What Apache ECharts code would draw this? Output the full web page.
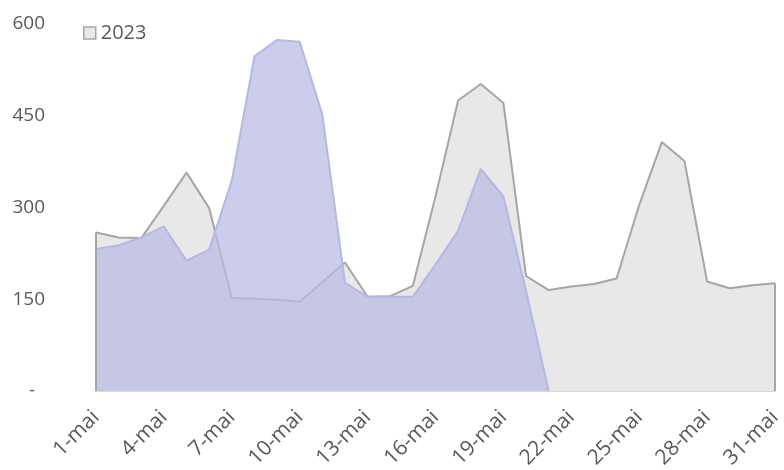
<!DOCTYPE html>
<html>
<head>
<meta charset="utf-8">
<script src="https://cdn.jsdelivr.net/npm/echarts@6/dist/echarts.min.js"></script>
<style>
  html, body { margin: 0; padding: 0; background: #fff; }
  #chart { width: 784px; height: 470px; }
</style>
</head>
<body>
<div id="chart"></div>
<script>
// days of May
const days = []
for (let d = 1; d <= 31; d++) days.push(d + '-mai')

const yTicks = [0, 150, 300, 450, 600]

const series2023 = [259, 251, 250, 303, 357, 299, 152, 151, 149, 146, 178, 210, 154, 155, 172,
  318, 475, 502, 471, 188, 165, 171, 175, 184, 304, 407, 376, 179, 168, 173, 176]

const series2024 = [232, 238, 251, 269, 213, 231, 344, 547, 574, 571, 452, 177, 154, 154, 154,
  207, 262, 363, 318, 164, 0, null, null, null, null, null, null, null, null, null, null]

const textColor = '#595959'
const font = 'Open Sans'

const chart = echarts.init(document.getElementById('chart'))

chart.setOption({
  animation: false,
  textStyle: { fontFamily: font },
  legend: {
    data: ['2023'],
    left: 78,
    top: 18,
    icon: 'rect',
    itemWidth: 12,
    itemHeight: 12,
    itemGap: 6,
    textStyle: { color: textColor, fontSize: 20, fontFamily: font },
    itemStyle: { borderColor: '#a6a6a6', borderWidth: 1.5 }
  },
  grid: { left: 96, right: 9, top: 24, bottom: 79, outerBoundsMode: 'none', containLabel: false },
  xAxis: {
    type: 'category',
    data: days,
    boundaryGap: false,
    axisLine: { lineStyle: { color: '#d9d9d9', width: 2 } },
    axisTick: { show: false },
    axisLabel: {
      interval: 2,
      rotate: 45,
      color: textColor,
      fontSize: 21,
      fontFamily: font,
      margin: 23
    }
  },
  yAxis: {
    type: 'value',
    min: yTicks[0],
    max: yTicks[yTicks.length - 1],
    interval: 150,
    splitLine: { show: false },
    axisLine: { show: false },
    axisTick: { show: false },
    axisLabel: {
      color: textColor,
      fontSize: 19,
      fontFamily: font,
      margin: 51,
      formatter: v => (v === 0 ? '-  ' : String(v))
    }
  },
  series: [
    {
      name: '2023',
      type: 'line',
      data: series2023,
      symbol: 'none',
      lineStyle: { color: '#a6a6a6', width: 2 },
      itemStyle: { color: '#e8e8e8', borderColor: '#a6a6a6' },
      areaStyle: { color: '#e8e8e8', opacity: 1 },
      markLine: {
        silent: true,
        symbol: 'none',
        label: { show: false },
        lineStyle: { color: '#a6a6a6', width: 2, type: 'solid' },
        data: [
          [{ coord: [days[0], 0] }, { coord: [days[0], series2023[0]] }],
          [{ coord: [days[30], 0] }, { coord: [days[30], series2023[30]] }]
        ]
      },
      z: 2
    },
    {
      name: '2024',
      type: 'line',
      data: series2024,
      symbol: 'none',
      lineStyle: { color: '#b3b8e6', width: 2 },
      itemStyle: { color: '#b9bce4' },
      areaStyle: { color: 'rgba(185, 188, 228, 0.74)', opacity: 1 },
      z: 3
    }
  ]
})
</script>
</body>
</html>
